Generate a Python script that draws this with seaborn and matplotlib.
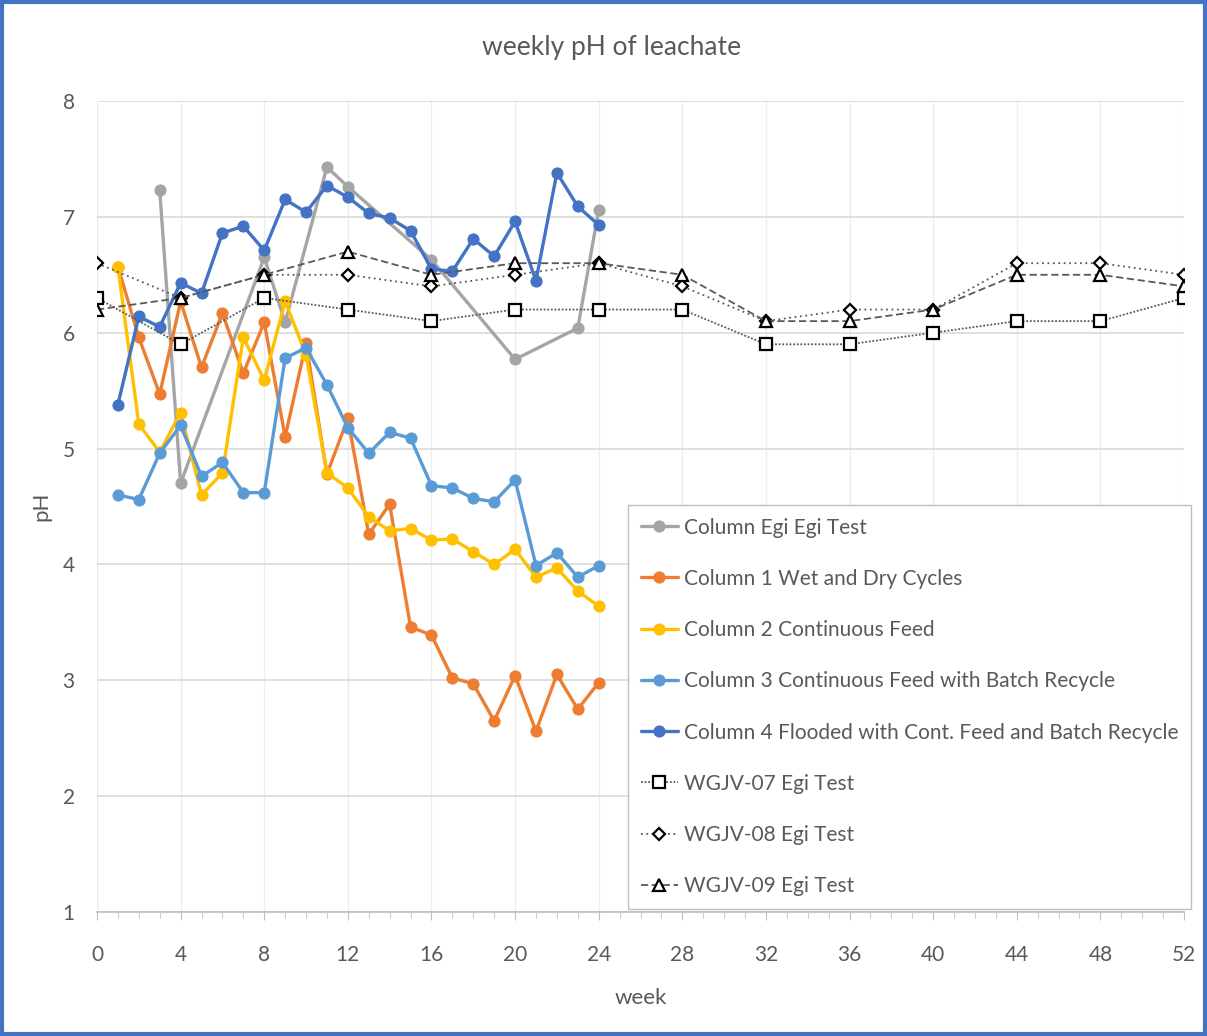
import matplotlib
matplotlib.use("Agg")
import matplotlib.pyplot as plt
import matplotlib.patches as mpatches
from matplotlib.ticker import MultipleLocator
import seaborn as sns

# weeks and pH values
egi_weeks = [3, 4, 8, 9, 11, 12, 16, 20, 23, 24]
egi_ph = [7.23, 4.70, 6.65, 6.09, 7.43, 7.26, 6.63, 5.77, 6.04, 7.06]

col_weeks = list(range(1, 25))
col1_ph = [6.57, 5.96, 5.47, 6.27, 5.70, 6.17, 5.65, 6.09, 5.10, 5.91, 4.78, 5.26,
           4.26, 4.52, 3.46, 3.39, 3.02, 2.97, 2.65, 3.04, 2.56, 3.05, 2.75, 2.98]
col2_ph = [6.57, 5.21, 4.97, 5.31, 4.60, 4.79, 5.96, 5.59, 6.27, 5.81, 4.79, 4.66,
           4.41, 4.29, 4.31, 4.21, 4.22, 4.11, 4.00, 4.13, 3.89, 3.97, 3.77, 3.64]
col3_ph = [4.60, 4.56, 4.96, 5.20, 4.76, 4.88, 4.62, 4.62, 5.78, 5.87, 5.55, 5.18,
           4.96, 5.14, 5.09, 4.68, 4.66, 4.57, 4.54, 4.73, 3.99, 4.10, 3.89, 3.99]
col4_ph = [5.38, 6.14, 6.05, 6.43, 6.34, 6.86, 6.92, 6.71, 7.15, 7.04, 7.27, 7.17,
           7.03, 6.99, 6.88, 6.55, 6.53, 6.81, 6.66, 6.96, 6.45, 7.38, 7.09, 6.93]

wgjv_weeks = [0, 4, 8, 12, 16, 20, 24, 28, 32, 36, 40, 44, 48, 52]
wgjv07_ph = [6.3, 5.9, 6.3, 6.2, 6.1, 6.2, 6.2, 6.2, 5.9, 5.9, 6.0, 6.1, 6.1, 6.3]
wgjv08_ph = [6.6, 6.3, 6.5, 6.5, 6.4, 6.5, 6.6, 6.4, 6.1, 6.2, 6.2, 6.6, 6.6, 6.5]
wgjv09_ph = [6.2, 6.3, 6.5, 6.7, 6.5, 6.6, 6.6, 6.5, 6.1, 6.1, 6.2, 6.5, 6.5, 6.4]

sns.set_style("white")
plt.rcParams["font.family"] = ["Lato", "DejaVu Sans"]

fig = plt.figure(figsize=(12.07, 10.36), dpi=100)
ax = fig.add_axes([97 / 1207, 1 - 912 / 1036, (1184 - 97) / 1207, (912 - 101) / 1036])

text_color = "#595959"

# column tests (solid lines, filled circles)
columns = [
    ("Column Egi Egi Test", egi_weeks, egi_ph, "#A5A5A5"),
    ("Column 1 Wet and Dry Cycles", col_weeks, col1_ph, "#ED7D31"),
    ("Column 2 Continuous Feed", col_weeks, col2_ph, "#FFC000"),
    ("Column 3 Continuous Feed with Batch Recycle", col_weeks, col3_ph, "#5B9BD5"),
    ("Column 4 Flooded with Cont. Feed and Batch Recycle", col_weeks, col4_ph, "#4472C4"),
]
for label, x, y, color in columns:
    sns.lineplot(x=x, y=y, ax=ax, color=color, linewidth=2.4, marker="o",
                 markersize=8, markeredgecolor=color, label=label)

# WGJV tests (black open markers, dotted/dashed lines)
wgjv = [
    ("WGJV-07 Egi Test", wgjv07_ph, "s", (0, (1, 1))),
    ("WGJV-08 Egi Test", wgjv08_ph, "D", (0, (1, 2))),
    ("WGJV-09 Egi Test", wgjv09_ph, "^", (0, (4, 2))),
]
for label, y, marker, ls in wgjv:
    sns.lineplot(x=wgjv_weeks, y=y, ax=ax, color="#595959", linewidth=1.3,
                 linestyle=ls, marker=marker, markersize=9 if marker != "D" else 6.5,
                 markerfacecolor="white", markeredgecolor="black",
                 markeredgewidth=1.6, label=label)

ax.set_xlim(0, 52)
ax.set_ylim(1, 8)
ax.xaxis.set_major_locator(MultipleLocator(4))
ax.xaxis.set_minor_locator(MultipleLocator(1))
ax.yaxis.set_major_locator(MultipleLocator(1))
ax.grid(True, which="major", axis="y", color="#D9D9D9", linewidth=1.2)
ax.grid(True, which="major", axis="x", color="#EDEDED", linewidth=1.0)

for side in ["top", "right", "left"]:
    ax.spines[side].set_visible(False)
ax.spines["bottom"].set_color("#BFBFBF")
ax.spines["bottom"].set_linewidth(1.2)
ax.tick_params(axis="x", which="both", direction="out", color="#BFBFBF",
               bottom=True, labelsize=15, labelcolor=text_color, pad=18)
ax.tick_params(axis="x", which="major", length=6)
ax.tick_params(axis="x", which="minor", length=4)
ax.tick_params(axis="y", length=0, labelsize=15, labelcolor=text_color, pad=16)

ax.set_xlabel("week", fontsize=16, color=text_color, labelpad=16)
ax.set_ylabel("pH", fontsize=16, color=text_color, labelpad=8)
fig.text(612 / 1207, 1 - 48 / 1036, "weekly pH of leachate", ha="center",
         va="center", fontsize=19, color=text_color)

leg = ax.legend(loc="upper left", bbox_to_anchor=(628 / 1207, 1 - 505 / 1036),
                bbox_transform=fig.transFigure, fontsize=15, frameon=True,
                fancybox=False, edgecolor="#BFBFBF", framealpha=1,
                handlelength=1.8, handletextpad=0.3, labelspacing=1.5,
                borderpad=0.6, borderaxespad=0)
for t in leg.get_texts():
    t.set_color(text_color)
leg.get_frame().set_linewidth(1.0)

# blue frame around the whole picture
fig.patches.append(mpatches.Rectangle((0.002, 0.002), 0.996, 0.996,
                                      transform=fig.transFigure, fill=False,
                                      edgecolor="#4472C4", linewidth=3))

fig.savefig("out.png", dpi=100)
